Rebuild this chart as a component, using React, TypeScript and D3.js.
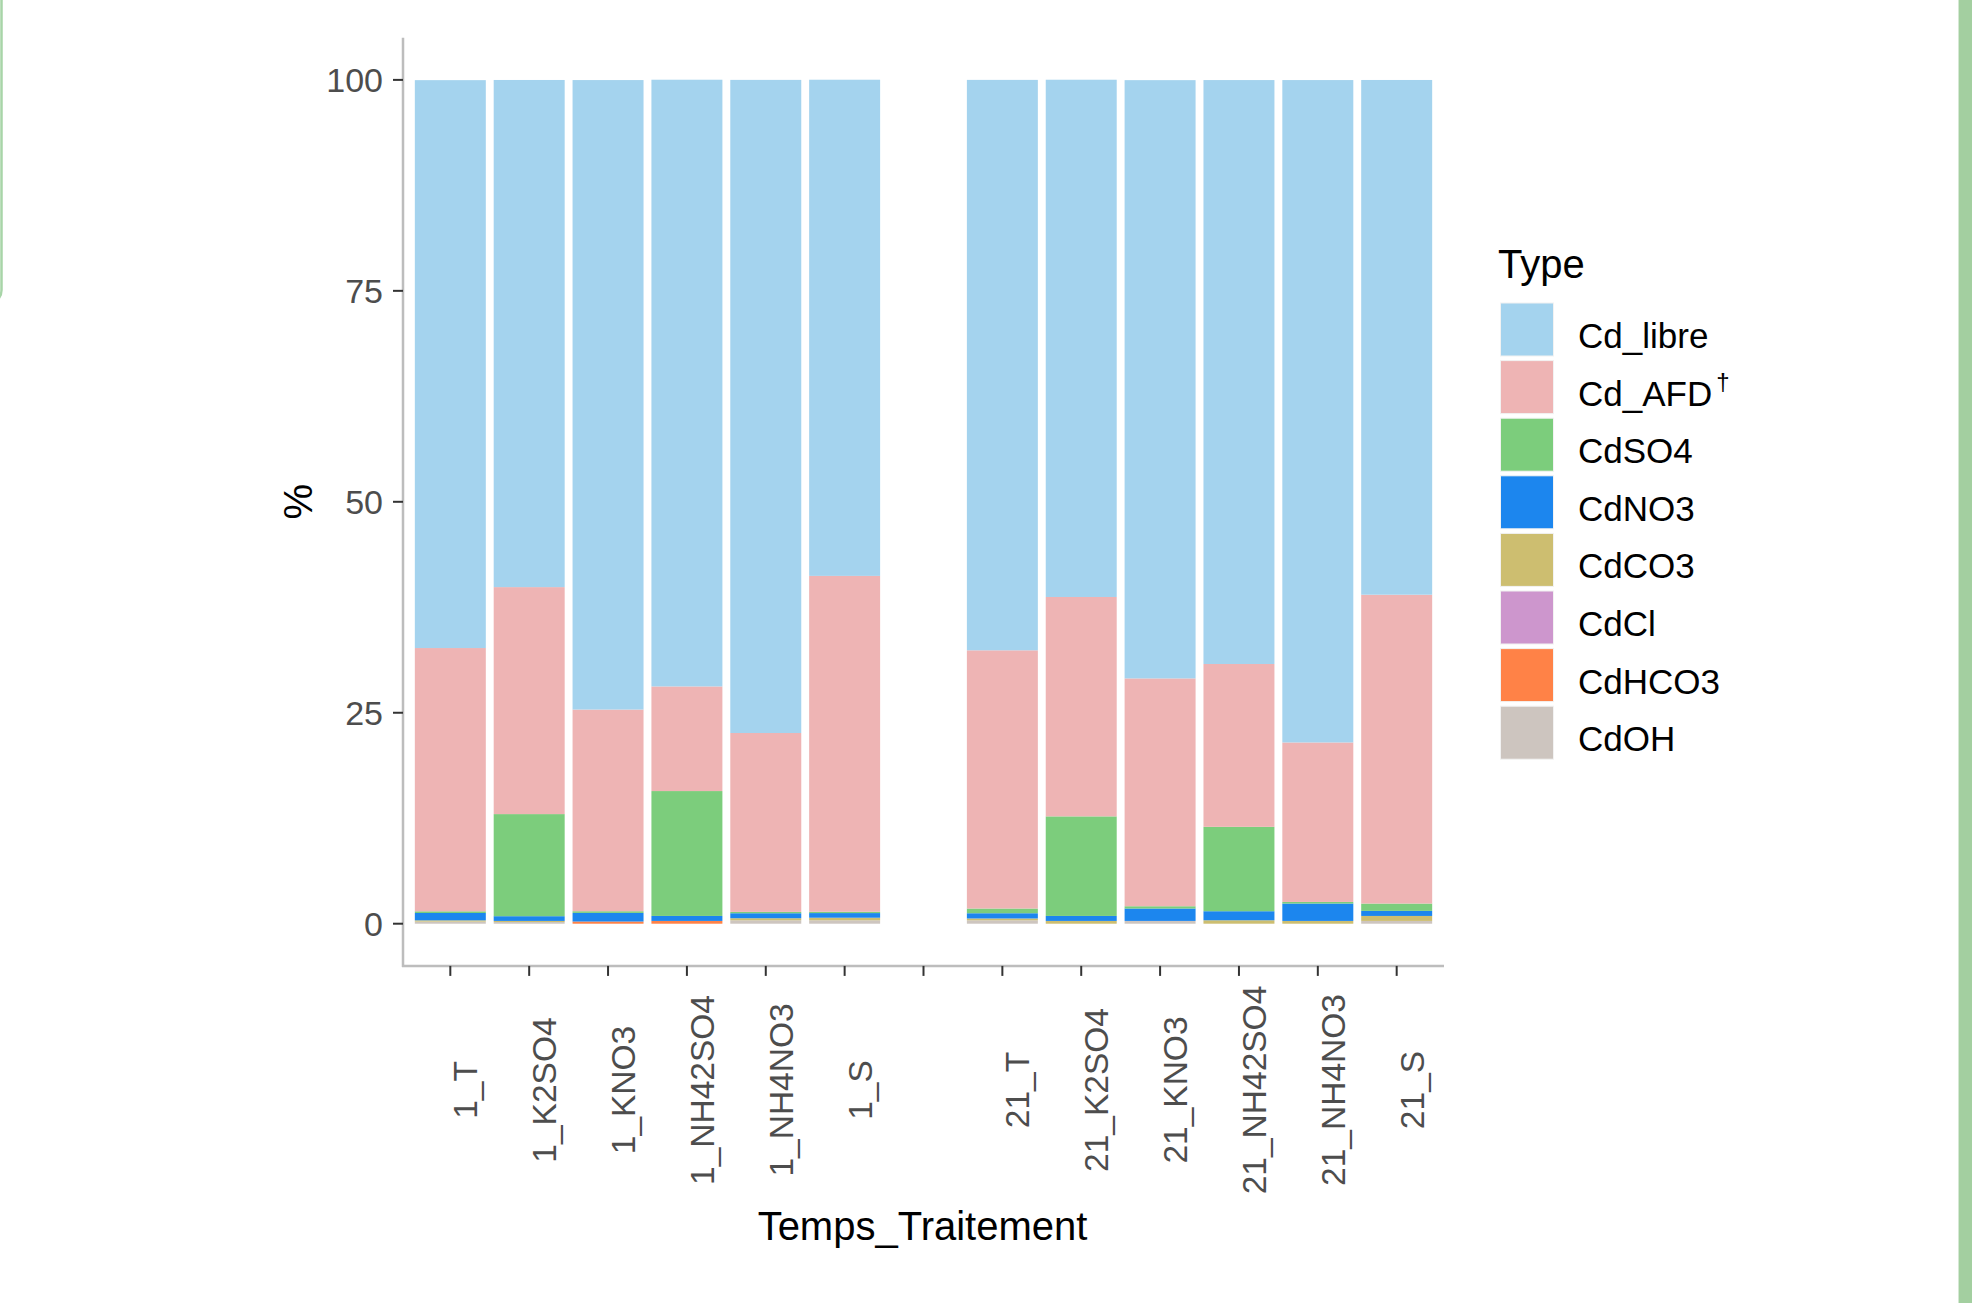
import React, { useEffect } from 'react';
import * as d3 from 'd3';

const categories = ["1_T", "1_K2SO4", "1_KNO3", "1_NH42SO4", "1_NH4NO3", "1_S", "", "21_T", "21_K2SO4", "21_KNO3", "21_NH42SO4", "21_NH4NO3", "21_S"];
const types = ["Cd_libre", "Cd_AFD", "CdSO4", "CdNO3", "CdCO3", "CdCl", "CdHCO3", "CdOH"];
const typeColors = ["#A4D3EE", "#EEB4B4", "#7CCD7C", "#1C86EE", "#CDBE70", "#CD96CD", "#FF8247", "#CDC5BF"];

const Cd_libre = [67.3, 60.1, 74.6, 71.9, 77.4, 58.8, 0, 67.6, 61.3, 70.9, 69.2, 78.5, 61.0];
const Cd_AFD = [31.2, 26.9, 23.9, 12.4, 21.2, 39.8, 0, 30.6, 26.0, 27.0, 19.3, 18.9, 36.6];
const CdSO4 = [0.2, 12.1, 0.2, 14.8, 0.16, 0.16, 0, 0.56, 11.8, 0.27, 10.0, 0.19, 0.87];
const CdNO3 = [0.87, 0.56, 1.02, 0.59, 0.59, 0.55, 0, 0.62, 0.59, 1.47, 1.07, 2.06, 0.6];
const CdCO3 = [0.15, 0.13, 0, 0, 0.24, 0.3, 0, 0.21, 0.33, 0, 0.41, 0.33, 0.59];
const CdCl = [0, 0, 0, 0, 0, 0, 0, 0, 0, 0, 0, 0, 0];
const CdHCO3 = [0, 0, 0.26, 0.33, 0, 0, 0, 0, 0, 0, 0, 0, 0];
const CdOH = [0.25, 0.2, 0, 0, 0.41, 0.41, 0, 0.41, 0, 0.33, 0, 0, 0.33];

const yTicks = [0, 25, 50, 75, 100];

const seriesValues: Record<string, number[]> = { Cd_libre, Cd_AFD, CdSO4, CdNO3, CdCO3, CdCl, CdHCO3, CdOH };

const FONT = '"Liberation Sans", Arial, Helvetica, sans-serif';

export default function App() {
  useEffect(() => {
    document.body.style.margin = '0';
  }, []);

  const W = 1972, H = 1303;
  const panel = { left: 403, right: 1444, top: 37.7, bottom: 965.9 };

  const x = d3.scaleBand<string>()
    .domain(categories)
    .range([panel.left, panel.right])
    .paddingInner(0.1)
    .paddingOuter(0.15);
  const y = d3.scaleLinear().domain([-5, 105]).range([panel.bottom, panel.top]);

  const rows = categories.map((c, i) => {
    const r: any = { cat: c };
    types.forEach(t => { r[t] = seriesValues[t][i]; });
    return r;
  });
  const stackKeys = [...types].reverse(); // bottom first
  const stacked = d3.stack<any>().keys(stackKeys)(rows);
  const color = d3.scaleOrdinal<string, string>().domain(types).range(typeColors);

  const tickColor = '#333333';
  const labelColor = '#4D4D4D';

  return (
    <svg width={W} height={H} style={{ position: 'absolute', left: 0, top: 0, display: 'block', background: '#ffffff' }} fontFamily={FONT}>
      <rect x={0} y={0} width={W} height={H} fill="#ffffff" />
      {/* decorative frames */}
      <rect x={-300} y={-20} width={301.5} height={324} rx={14} ry={14} fill="none" stroke="#A8D5A8" strokeWidth={2.5} />
      <rect x={1959} y={0} width={13} height={H} fill="#A3CFA0" />
      <line x1={1958.5} x2={1958.5} y1={0} y2={H} stroke="#D5E8D3" strokeWidth={1} />

      {/* bars */}
      {stacked.map(layer => (
        <g key={layer.key} fill={color(layer.key)}>
          {layer.map((d, i) => {
            const h = y(d[0]) - y(d[1]);
            if (h <= 0) return null;
            return <rect key={i} x={x(categories[i])} y={y(d[1])} width={x.bandwidth()} height={h} />;
          })}
        </g>
      ))}

      {/* axes lines */}
      <line x1={panel.left} x2={panel.left} y1={panel.top} y2={panel.bottom + 1} stroke="#BDBDBD" strokeWidth={2.5} />
      <line x1={panel.left - 1} x2={panel.right} y1={panel.bottom} y2={panel.bottom} stroke="#BDBDBD" strokeWidth={2.5} />

      {/* y ticks */}
      {yTicks.map(t => (
        <g key={t}>
          <line x1={panel.left - 10} x2={panel.left} y1={y(t)} y2={y(t)} stroke={tickColor} strokeWidth={2} />
          <text x={panel.left - 20} y={y(t)} dy="0.36em" textAnchor="end" fontSize={34} fill={labelColor}>{t}</text>
        </g>
      ))}

      {/* x ticks */}
      {categories.map((c, i) => {
        const cx = (x(c) as number) + x.bandwidth() / 2;
        return (
          <g key={i}>
            <line x1={cx} x2={cx} y1={panel.bottom} y2={panel.bottom + 10} stroke={tickColor} strokeWidth={2} />
            {c !== '' && (
              <text transform={`translate(${cx + 27},1090) rotate(-90)`} textAnchor="middle" fontSize={33.5} fill={labelColor}>{c}</text>
            )}
          </g>
        );
      })}

      {/* axis titles */}
      <text x={(panel.left + panel.right) / 2 - 1} y={1240} textAnchor="middle" fontSize={40} fill="#000">Temps_Traitement</text>
      <text transform={`translate(${312},${(panel.top + panel.bottom) / 2}) rotate(-90)`} textAnchor="middle" fontSize={40} fill="#000">%</text>

      {/* legend */}
      <text x={1498} y={278} fontSize={40} fill="#000">Type</text>
      {types.map((t, i) => {
        const ky = 303 + i * 57.6;
        return (
          <g key={t}>
            <rect x={1500.5} y={ky} width={53} height={53} fill={color(t)} stroke="#F2F2F2" strokeWidth={1} />
            <text x={1578} y={ky + 45} fontSize={35} fill="#000">
              {t}
              {t === 'Cd_AFD' && <tspan dx={4} dy={-16} fontSize={24}>†</tspan>}
            </text>
          </g>
        );
      })}
    </svg>
  );
}
